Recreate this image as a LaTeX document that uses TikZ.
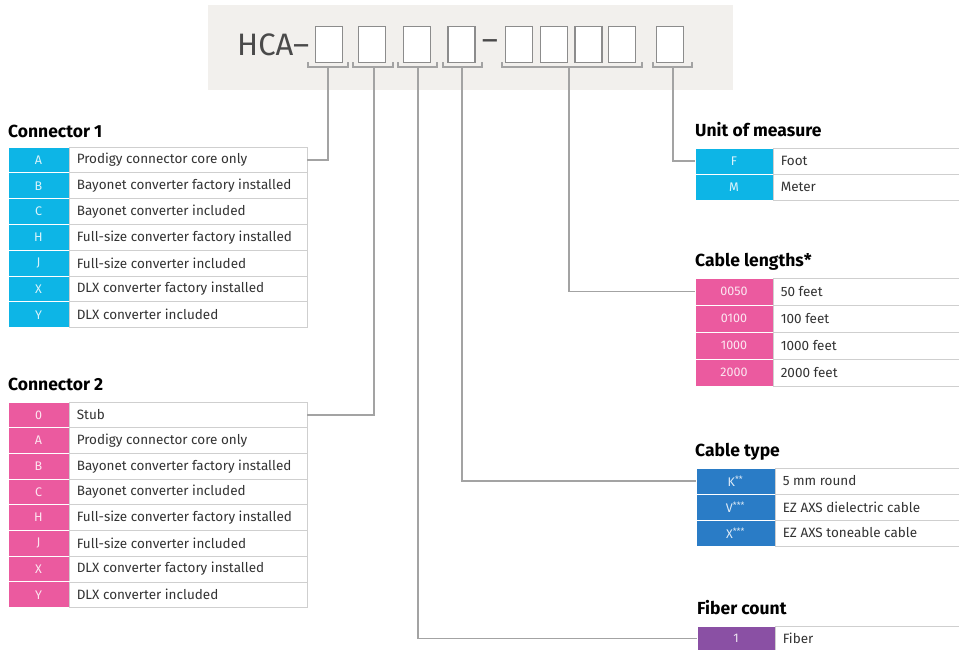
\documentclass[tikz,border=0pt]{standalone}
\usepackage{fontspec}
\setmainfont{Fira Sans}
\definecolor{hdr}{HTML}{F2F0ED}
\definecolor{hcagray}{HTML}{4A4A4A}
\definecolor{boxgray}{HTML}{8C8C8C}
\definecolor{linegray}{HTML}{A3A3A3}
\definecolor{cellgray}{HTML}{CFCFCF}
\definecolor{cyanc}{HTML}{0DB5E6}
\definecolor{pinkc}{HTML}{EB5A9F}
\definecolor{bluec}{HTML}{2A7CC6}
\definecolor{purplec}{HTML}{8A50A4}
\definecolor{txt}{HTML}{333333}
\tikzset{
  codebox/.style={draw=boxgray, line width=1.2pt, fill=white, minimum width=27pt, minimum height=36pt, inner sep=0pt},
  bracketline/.style={draw=linegray, line width=1.2pt},
  conn/.style={draw=linegray, line width=1.3pt},
  codecell/.style={draw=white, line width=1pt, inner sep=0pt, text=white, text opacity=0.85, font=\fontsize{12.5}{14}\selectfont},
  txtcell/.style={draw=cellgray, line width=0.8pt, inner sep=0pt, fill=white},
  txtlabel/.style={anchor=west, inner sep=0pt, text=txt, font=\fontsize{13.5}{15}\selectfont},
  ttl/.style={anchor=base west, inner sep=0pt, text=black, font=\bfseries\fontsize{17.5}{20}\selectfont}
}
\newcommand\spectable[8]{%
  \foreach \c/\t [count=\i from 0] in {#8}{%
    \node[codecell, fill=#7, minimum width={#4-#2}, minimum height={#6}] (#1c\i) at ({(#2+#4)/2},{#3+(\i+0.5)*#6}) {\c};
    \node[txtcell, minimum width={#5-#4}, minimum height={#6}] (#1t\i) at ({(#4+#5)/2},{#3+(\i+0.5)*#6}) {};
    \node[txtlabel] (#1l\i) at ([xshift=8pt]#1t\i.west) {\t};
  }%
}
\begin{document}
\begin{tikzpicture}[x=1pt,y=-1pt]
\useasboundingbox (0,0) rectangle (959,649);
\clip (0,0) rectangle (959,649);
\fill[white] (0,0) rectangle (959,649);
% header
\node[fill=hdr, minimum width=525pt, minimum height=85pt, inner sep=0pt] (hdr) at (470.5,47.5) {};
\node[anchor=west, inner sep=0pt, text=hcagray, font=\fontsize{31}{33}\selectfont] (hca) at (237,45) {HCA–};
\node[inner sep=0pt, text=hcagray, font=\fontsize{31}{33}\selectfont] (dash) at (490,45) {–};
\foreach \x [count=\k] in {329,372,417,461.5,519,554,588.5,622,670}{
  \node[codebox] (box\k) at (\x,44.5) {};
}
% brackets
\foreach \a/\b/\n in {308/348/1,353/393/2,398/437/3,443/482/4,502/642/5,653/692/6}{
  \draw[bracketline] (\a,62) -- (\a,67) -- (\b,67) -- (\b,62);
}
\coordinate (k1) at (328,67);
\coordinate (k2) at (374,67);
\coordinate (k3) at (418,67);
\coordinate (k4) at (462,67);
\coordinate (k5) at (569,67);
\coordinate (k6) at (673,67);
% titles
\node[ttl] (tc1) at (8,137) {Connector 1};
\node[ttl] (tc2) at (8,390) {Connector 2};
\node[ttl] (tum) at (695,136) {Unit of measure};
\node[ttl] (tcl) at (695,266) {Cable lengths*};
\node[ttl] (tct) at (695,456) {Cable type};
\node[ttl] (tfc) at (697,614) {Fiber count};
% tables
\spectable{ca}{8}{147}{69}{307}{25.8}{cyanc}{A/Prodigy connector core only,B/Bayonet converter factory installed,C/Bayonet converter included,H/Full-size converter factory installed,J/Full-size converter included,X/DLX converter factory installed,Y/DLX converter included}
\spectable{cb}{8}{402}{69}{307}{25.7}{pinkc}{0/Stub,A/Prodigy connector core only,B/Bayonet converter factory installed,C/Bayonet converter included,H/Full-size converter factory installed,J/Full-size converter included,X/DLX converter factory installed,Y/DLX converter included}
\spectable{um}{695}{148}{773}{966}{26}{cyanc}{F/Foot,M/Meter}
\spectable{cl}{695}{278}{773}{966}{27}{pinkc}{0050/50 feet,0100/100 feet,1000/1000 feet,2000/2000 feet}
\spectable{ct}{696}{468}{775}{966}{26}{bluec}{K\textsuperscript{**}/5 mm round,V\textsuperscript{***}/EZ AXS dielectric cable,X\textsuperscript{***}/EZ AXS toneable cable}
\spectable{fc}{697}{626}{775}{966}{25.5}{purplec}{1/Fiber}
% connectors
\draw[conn] (k1) |- (cat0.east);
\draw[conn] (k2) |- (cbt0.east);
\draw[conn] (k3) |- (fcc0.west);
\draw[conn] (k4) |- (ctc0.west);
\draw[conn] (k5) |- (clc0.west);
\draw[conn] (k6) |- (umc0.west);
\end{tikzpicture}
\end{document}
